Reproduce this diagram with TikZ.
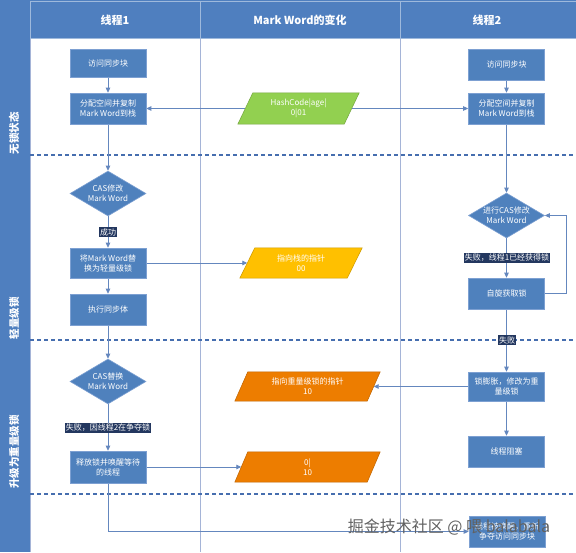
\documentclass[tikz,border=0pt]{standalone}
\usepackage{fontspec}
\setmainfont{Noto Sans CJK SC}
\usetikzlibrary{shapes.geometric,arrows.meta,backgrounds}
\pgfdeclarelayer{para}
\pgfsetlayers{background,para,main}
\definecolor{hdr}{RGB}{79,127,191}
\definecolor{boxblue}{RGB}{79,129,189}
\definecolor{boxedge}{RGB}{125,160,210}
\definecolor{connc}{RGB}{100,135,190}
\definecolor{dashc}{RGB}{70,110,175}
\definecolor{lanec}{RGB}{165,180,215}
\definecolor{pgreen}{RGB}{146,208,80}
\definecolor{pyellow}{RGB}{255,192,0}
\definecolor{porange}{RGB}{237,125,0}
\definecolor{lblc}{RGB}{35,55,95}
\newcommand\mypgram[3]{%
  \begin{pgfonlayer}{para}
  \path[fill=#2,draw=#2!80!black,line width=0.5pt]
    ([xshift=#3]#1.north west) -- ([xshift=#3]#1.north east) --
    ([xshift=-#3]#1.south east) -- ([xshift=-#3]#1.south west) -- cycle;
  \end{pgfonlayer}}
\begin{document}
\begin{tikzpicture}[x=1pt,y=-1pt,
  boxn/.style={rectangle,fill=boxblue,draw=boxedge,line width=0.6pt,text=white,
    font=\fontsize{8}{10}\selectfont,minimum width=76pt,minimum height=31pt,align=center,inner sep=1pt},
  dia/.style={diamond,fill=boxblue,draw=boxedge,line width=0.6pt,minimum width=76pt,minimum height=45pt,inner sep=0pt},
  dtext/.style={text=white,font=\fontsize{8}{10}\selectfont,align=center,inner sep=0pt},
  ptext/.style={rectangle,text=white,font=\fontsize{8}{10}\selectfont,align=center,minimum height=30pt,inner sep=0pt},
  conn/.style={draw=connc,line width=0.8pt},
  arr/.style={conn,-{Triangle[length=5pt,width=4.5pt]}},
  tag/.style={fill=lblc,text=white,font=\fontsize{8}{9}\selectfont,inner sep=1pt},
  hdrtext/.style={text=white,font=\fontsize{11}{13}\selectfont\bfseries},
  lanetext/.style={text=white,font=\fontsize{10.5}{12}\selectfont\bfseries,rotate=90},
]
\useasboundingbox (0,0) rectangle (576,552);
% header and left strip
\fill[hdr] (0,0) rectangle (576,38);
\fill[hdr] (0,38) rectangle (30,552);
\draw[white!45!hdr,line width=0.6pt] (30,1) -- (30,38) (200,1) -- (200,38) (400,1) -- (400,38) (30,1) -- (576,1) (30,38) -- (576,38);
\node[hdrtext] (h1) at (115,20) {线程1};
\node[hdrtext] (h2) at (300,20) {Mark Word的变化};
\node[hdrtext] (h3) at (487,20) {线程2};
\node[lanetext] (l1) at (14,133) {无锁状态};
\node[lanetext] (l2) at (14,318) {轻量级锁};
\node[lanetext] (l3) at (14,452) {升级为重量级锁};

% thread 1
\node[boxn,minimum height=28pt] (t1a) at (108,63.5) {访问同步块};
\node[boxn] (t1b) at (108,108.5) {分配空间并复制\\Mark Word到栈};
\node[dia,label={[dtext]center:{CAS修改\\Mark Word}}] (cas1) at (108,193.5) {};
\node[boxn,minimum height=30pt] (t1c) at (108,263) {将Mark Word替\\换为轻量级锁};
\node[boxn] (t1d) at (108,309.5) {执行同步体};
\node[dia,label={[dtext]center:{CAS替换\\Mark Word}}] (cas2) at (108,381.5) {};
\node[boxn,minimum height=32pt] (t1e) at (108,467) {释放锁并唤醒等待\\的线程};

% mark word
\node[ptext,minimum width=106pt,minimum height=31pt] (hash) at (298.5,108.5) {HashCode|age|\\0|01};
\mypgram{hash}{pgreen}{7.5pt}
\node[ptext,minimum width=107pt] (yel) at (301,263) {指向栈的指针\\00};
\mypgram{yel}{pyellow}{7.5pt}
\node[ptext,minimum width=132pt,minimum height=29pt] (or1) at (307.5,386.5) {指向重量级锁的指针\\10};
\mypgram{or1}{porange}{6.5pt}
\node[ptext,minimum width=132pt] (or2) at (307.5,467) {0|\\10};
\mypgram{or2}{porange}{6.5pt}

% thread 2
\node[boxn] (t2a) at (506.5,64.5) {访问同步块};
\node[boxn] (t2b) at (506.5,108.5) {分配空间并复制\\Mark Word到栈};
\node[dia,label={[dtext]center:{进行CAS修改\\Mark Word}}] (cas3) at (506.5,215.5) {};
\node[boxn] (spin) at (506.5,293.5) {自旋获取锁};
\node[boxn,minimum height=29pt] (infl) at (506.5,386.5) {锁膨胀，修改为重\\量级锁};
\node[boxn] (blk) at (506.5,451.5) {线程阻塞};
\node[boxn] (wake) at (507,531.5) {线程被唤醒，重新\\争夺访问同步块};

\begin{pgfonlayer}{background}
  \fill[white] (30,38) rectangle (576,552);
  \draw[lanec,line width=0.6pt] (30,38) -- (30,552) (200,38) -- (200,552) (400,38) -- (400,552);
  \draw[dashc,line width=1.4pt,dash pattern=on 4pt off 3pt] (30,155) -- (576,155) (30,340) -- (576,340) (30,494) -- (576,494);
  \draw[arr] (t1a) -- (t1b);
  \draw[arr] (t1b) -- (cas1);
  \draw[arr] (cas1) -- (t1c);
  \draw[arr] (t1c) -- (t1d);
  \draw[arr] (t1d) -- (cas2);
  \draw[arr] (cas2) -- (t1e);
  \draw[arr] (t1e.south) |- (wake.west);
  \draw[arr] (hash) -- (t1b);
  \draw[arr] (hash) -- (t2b);
  \draw[arr] (t1c) -- (yel);
  \draw[arr] (t1e) -- (or2);
  \draw[arr] (infl) -- (or1);
  \draw[arr] (t2a) -- (t2b);
  \draw[arr] (t2b) -- (cas3);
  \draw[arr] (cas3) -- (spin);
  \draw[arr] (spin.east) -- ++(22,0) |- (cas3.east);
  \draw[arr] (spin) -- (infl);
  \draw[arr] (infl) -- (blk);
\end{pgfonlayer}

\node[tag] (s1) at (108,232) {成功};
\node[tag] (f1) at (507,258) {失败，线程1已经获得锁};
\node[tag] (f2) at (507,340) {失败};
\node[tag] (f3) at (108,428) {失败，因线程2在争夺锁};

\node[font=\fontsize{16}{16}\selectfont,text=black!62] (wm) at (449,527) {掘金技术社区 @ 喂 balabala};
\end{tikzpicture}
\end{document}
